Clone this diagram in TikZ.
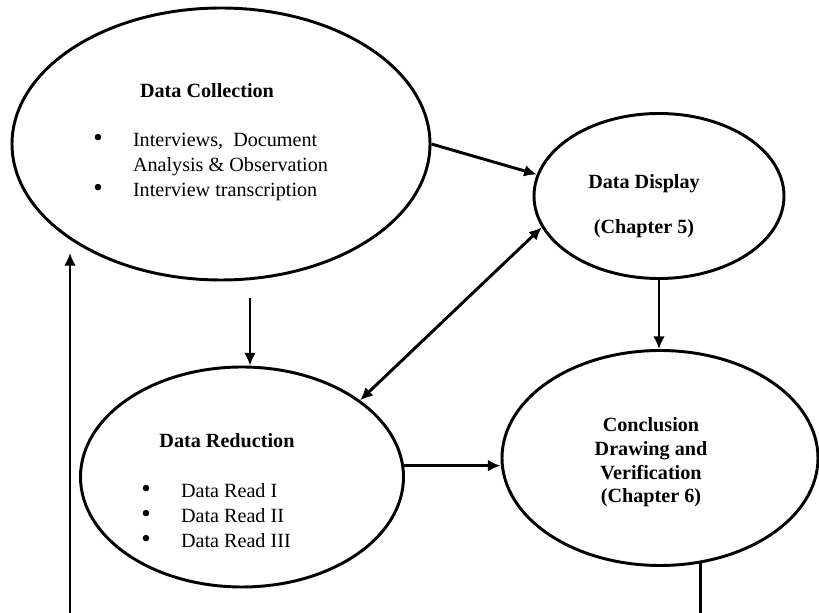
\documentclass[tikz,border=0pt]{standalone}
\usepackage{fontspec}
\setmainfont{Liberation Serif}
\usetikzlibrary{shapes.geometric,arrows.meta}
\newcommand{\pxu}{0.595pt}
\newcommand{\blt}{{\fontsize{16}{12}\selectfont\textbullet}}
\tikzset{
    stage/.style={draw, ellipse, line width=1.75pt, inner sep=0pt},
    lbl/.style={inner sep=0pt, anchor=base, font=\fontsize{12}{14.6}\selectfont},
    flow/.style={line width=1.75pt, ->}
}
\begin{document}
\begin{tikzpicture}[x=0.595pt, y=-0.595pt, >={Latex[length=7.5pt,width=7pt]}]
        \useasboundingbox (0,0) rectangle (819,613);
        % the four stages
        \node[stage, minimum width=418*\pxu, minimum height=272*\pxu] (coll) at (221,144) {};
        \node[stage, minimum width=250*\pxu, minimum height=165*\pxu] (disp) at (659,196) {};
        \node[stage, minimum width=323*\pxu, minimum height=220*\pxu] (red) at (242,477) {};
        \node[stage, minimum width=316*\pxu, minimum height=215*\pxu] (conc) at (660,458) {};
        % texts
        \node[lbl] (colltitle) at (207,98) {\textbf{Data Collection}};
        \node[lbl, anchor=base west] (colllist) at (93,147)
            {\begin{tabular}[t]{@{}l@{\hspace{18pt}}l@{}}
                \blt & Interviews,~ Document\\
                     & Analysis \& Observation\\
                \blt & Interview transcription
            \end{tabular}};
        \node[lbl] (disptitle) at (644,189) {\textbf{Data Display}};
        \node[lbl] (dispchap) at (644,234) {\textbf{(Chapter 5)}};
        \node[lbl] (redtitle) at (227,448) {\textbf{Data Reduction}};
        \node[lbl, anchor=base west] (redlist) at (141,498)
            {\begin{tabular}[t]{@{}l@{\hspace{18pt}}l@{}}
                \blt & Data Read I\\
                \blt & Data Read II\\
                \blt & Data Read III
            \end{tabular}};
        \node[lbl, font=\fontsize{12}{14}\selectfont] (conctext) at (651,432)
            {\begin{tabular}[t]{@{}c@{}}
                \textbf{Conclusion}\\
                \textbf{Drawing and}\\
                \textbf{Verification}\\
                \textbf{(Chapter 6)}
            \end{tabular}};
        % loop ends
        \coordinate (collout) at (250,298);
        \coordinate (loopbot) at (70,614);
        \coordinate (looptop) at (70,253);
        % arrows
        \draw[flow] (coll.east) -- (disp.170);
        \draw[flow, <->] (red.33) -- (disp.195);
        \draw[flow] (disp.south) -- (disp.south |- conc.north);
        \draw[flow] (collout) -- (collout |- red.north);
        \draw[flow] (red.4) -- (red.4 -| conc.west);
        \draw[flow] (conc.-69) |- (loopbot) -- (looptop);
    \end{tikzpicture}
\end{document}
